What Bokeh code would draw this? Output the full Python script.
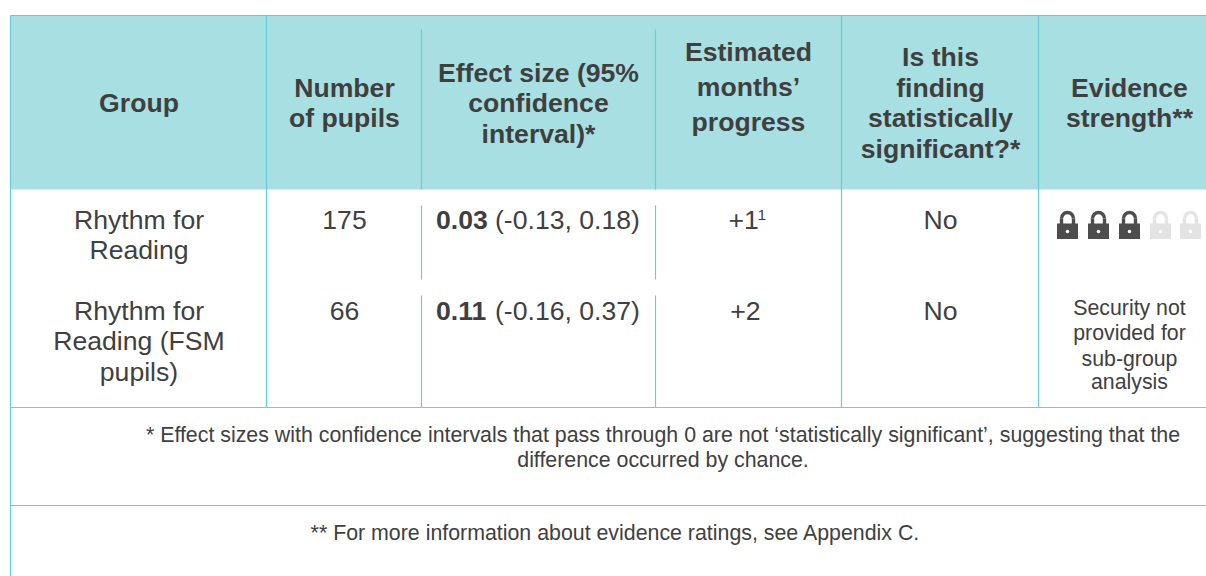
from bokeh.plotting import figure
from bokeh.models import Range1d
from bokeh.core.properties import value
from bokeh.embed import file_html
from bokeh.resources import INLINE
import math

# ---- table content ----
headers = [["Group"], ["Number", "of pupils"], ["Effect size (95%", "confidence", "interval)*"],
           ["Estimated", "months’", "progress"], ["Is this", "finding", "statistically", "significant?*"],
           ["Evidence", "strength**"]]
groups = [["Rhythm for", "Reading"], ["Rhythm for", "Reading (FSM", "pupils)"]]
pupils = ["175", "66"]
effects = ["0.03", "0.11"]
intervals = ["(-0.13, 0.18)", "(-0.16, 0.37)"]
months = ["+1", "+2"]
significant = ["No", "No"]
locks_filled = 3
locks_total = 5
security = ["Security not", "provided for", "sub-group", "analysis"]
note1 = ["* Effect sizes with confidence intervals that pass through 0 are not ‘statistically significant’, suggesting that the",
         "difference occurred by chance."]
note2 = "** For more information about evidence ratings, see Appendix C."

# ---- layout (page pixels) ----
PAGE_L, PAGE_T, W, H = 0, 0, 1206, 576
TEAL, TEAL2, HEAD, INK, BODY = "#66cfd3", "#7cc8cc", "#a8dfe2", "#3f3f3f", "#404040"
FONT = value("Liberation Sans")

p = figure(width=W, height=H, output_backend="svg", toolbar_location=None,
           x_range=Range1d(PAGE_L, PAGE_L + W), y_range=Range1d(PAGE_T + H, PAGE_T),
           x_axis_type=None, y_axis_type=None, min_border=0, outline_line_color=None)
p.grid.visible = False

p.quad(left=[10], right=[1206], top=[15], bottom=[189], fill_color=HEAD, line_color=None)

def seg(x0, y0, x1, y1, color=TEAL, w=1.2):
    p.segment(x0=[x0], y0=[y0], x1=[x1], y1=[y1], line_color=color, line_width=w)

seg(10, 15, 1206, 15)
seg(10, 15, 10, 576)
for x in (266, 841, 1038):
    seg(x, 15, x, 407)
for x in (421, 655):
    seg(x, 29, x, 189)
    seg(x, 205, x, 279, TEAL2)
    seg(x, 295, x, 407, TEAL2)
seg(10, 407, 1206, 407, TEAL2)
seg(10, 505, 1206, 505)

def txt(x, y, s, size, bold=False, align="center", color=BODY):
    p.text(x=[x], y=[y - size * 0.375], text=[s], text_font=FONT, text_font_size=f"{size}px",
           text_font_style="bold" if bold else "normal", text_align=align,
           text_baseline="alphabetic", text_color=color)

# header
hx = [138.5, 344, 538, 748, 940, 1129]
hy = [[112], [97, 127], [82, 112, 143], [61, 96, 131], [66, 97, 127, 158], [97, 127.5]]
for x, lines, ys in zip(hx, headers, hy):
    for s, y in zip(lines, ys):
        txt(x, y, s, 26.6, True, color=INK)

# rows
row_y = [229, 320]
for y, g in zip(row_y, groups):
    for i, s in enumerate(g):
        txt(138.5, y + round(i * 30.5), s, 26.6)
for i, y in enumerate(row_y):
    txt(344, y, pupils[i], 26.6)
    txt(435.5, y, effects[i], 26.6, True, "left", INK)
    txt(494.5, y, intervals[i], 26.6, False, "left")
    txt(940, y, significant[i], 26.6)
txt(728, row_y[0], months[0], 26.6, align="left")
txt(757, row_y[0] - 9, "1", 15.5, align="left")
txt(745, row_y[1], months[1], 26.6)

# locks
lock_x = [1067, 1098, 1129, 1160, 1190]
for i, x in enumerate(lock_x[:locks_total]):
    c = "#4d4d4d" if i < locks_filled else "#e3e3e3"
    p.arc(x=[x], y=[218], radius=[6], start_angle=[0], end_angle=[math.pi],
          direction="anticlock", line_color=c, line_width=3.4)
    p.segment(x0=[x - 6, x + 6], y0=[218, 218], x1=[x - 6, x + 6], y1=[225, 225], line_color=c, line_width=3.4)
    p.quad(left=[x - 10.5], right=[x + 10.5], top=[223], bottom=[238.5], fill_color=c, line_color=None)
    p.scatter(x=[x], y=[231], size=3.5, fill_color="white", line_color=None)

for s, y in zip(security, [315, 340, 366, 389]):
    txt(1129, y, s, 21.3)

# footnotes
txt(662.5, 443, note1[0], 21.35)
txt(662.5, 468, note1[1], 21.35)
txt(615, 541, note2, 21.35)

open("out.html", "w").write(file_html(p, INLINE))
